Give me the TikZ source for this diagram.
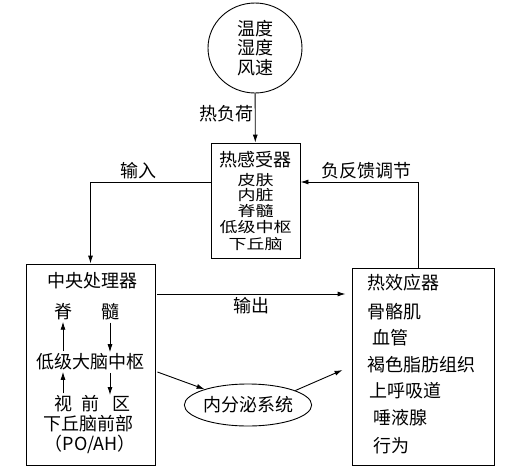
\documentclass[tikz,border=0pt]{standalone}
\usepackage{fontspec}
\usepackage{graphicx}
\setmainfont{Noto Sans CJK SC}
\usetikzlibrary{arrows.meta, shapes.geometric, positioning}

\begin{document}
\begin{tikzpicture}[>={Latex[length=8pt,width=5pt]}, x=1pt, y=-1pt, line width=0.9pt,
    box/.style={draw, rectangle, inner sep=0pt},
    txt/.style={inner sep=0pt, font=\fontsize{18}{20}\selectfont},
    lbl/.style={txt, inner sep=3pt},
    inarrow/.style={->, shorten <=2pt, shorten >=1pt}]
    \useasboundingbox (0,0) rectangle (512,472);

    % 环境
    \node[draw, ellipse, minimum width=94, minimum height=90, align=center, inner sep=0pt,
          font=\fontsize{18}{19.5}\selectfont] (env) at (255,48) {温度\\湿度\\风速};

    % 热感受器
    \node[box, minimum width=89, minimum height=115] (sensor) at (255.5,200.5) {};
    \node[txt] (sens0) at (255.5,160) {热感受器};
    \foreach \t/\y [count=\i] in {皮肤/180, 内脏/195.5, 脊髓/211, 低级中枢/227.5, 下丘脑/244}
        \node[txt] (sens\i) at (255.5,\y) {\scalebox{1}[0.8]{\t}};

    % 中央处理器
    \node[box, minimum width=129, minimum height=201] (cpu) at (90.5,364.5) {};
    \node[txt] (cpuT) at (92,281) {中央处理器};
    \node[txt] (ji) at (63,312) {脊};
    \node[txt] (sui) at (110,312) {髓};
    \node[txt] (low) at (90,362) {低级大脑中枢};
    \node[txt] (shi) at (63,404) {视};
    \node[txt] (qian) at (90,404) {前};
    \node[txt] (qu) at (121,404) {区};
    \node[txt] (hyp) at (88,424) {下丘脑前部};
    \node[txt] (poah) at (90,444) {（PO/AH）};

    \draw[inarrow] (shi.north) -- (shi |- low.south);
    \draw[inarrow] (shi |- low.north) -- (ji.south);
    \draw[inarrow] (sui.south) -- (sui |- low.north);
    \draw[inarrow] (sui |- low.south) -- (sui |- qu.north);

    % 热效应器
    \node[box, minimum width=142, minimum height=197] (eff) at (423,366.5) {};
    \foreach \t/\x/\y [count=\i] in {热效应器/367/283, 骨骼肌/367/312, 血管/372/338,
            褐色脂肪组织/367/365, 上呼吸道/369/391, 唾液腺/373/418, 行为/373/446}
        \node[txt, anchor=west] (eff\i) at (\x,\y) {\t};

    % 内分泌系统
    \node[draw, ellipse, minimum width=104, minimum height=42, inner sep=0pt,
          font=\fontsize{18}{20}\selectfont] (endo) at (248,405) {内分泌系统};

    % 连线
    \draw[->] (env) -- (sensor) node[lbl, left, pos=0.42, inner sep=1pt] {热负荷};
    \draw[->] ([yshift=18.5pt]sensor.west) -| (cpu.north) node[lbl, above, pos=0.3] {输入};
    \draw[->] ([xshift=-5pt]eff.north) |- ([yshift=18.5pt]sensor.east)
        node[lbl, above, pos=0.72] {负反馈调节};
    \coordinate (outS) at ([xshift=2pt,yshift=70.5pt]cpu.east);
    \draw[->] (outS) -- ([xshift=-6pt]outS -| eff.west) node[lbl, below, midway] {输出};
    \draw[->] ([xshift=2pt,yshift=-7.5pt]cpu.east) -- (endo.160);
    \draw[->] (endo.17) -- ([xshift=-9pt,yshift=-3.5pt]eff.west);
\end{tikzpicture}
\end{document}
